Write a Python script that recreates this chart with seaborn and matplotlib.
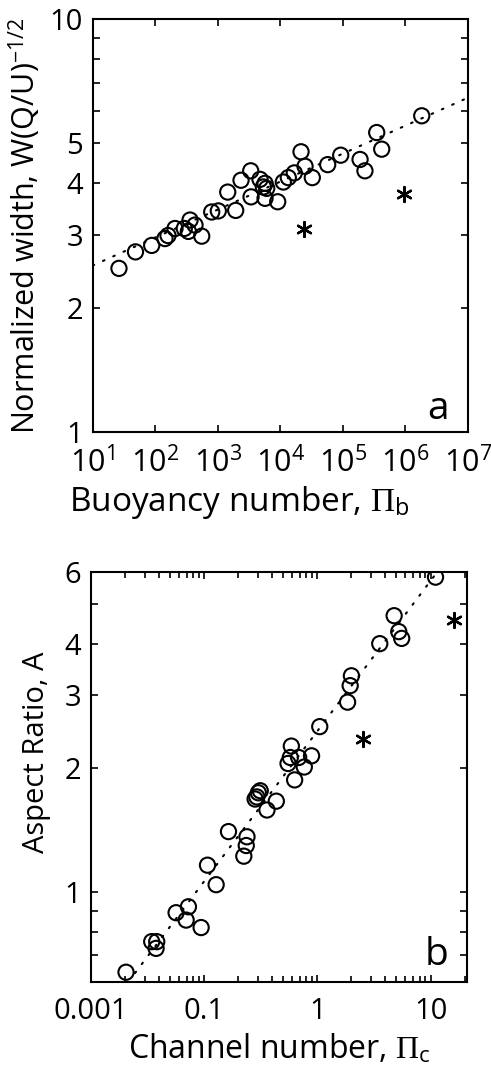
import numpy as np
import pandas as pd
from matplotlib import pyplot as plt
from matplotlib.ticker import FixedLocator, NullLocator, LogLocator, NullFormatter
import seaborn as sns

# Panel a: buoyancy number vs normalized width
buoy_x = [26.3, 48.3, 87.7, 143, 160, 207, 291, 360, 432, 338, 553, 799, 1019,
          1932, 1440, 2350, 3360, 3400, 4730, 5690, 6050, 5340, 5690, 9070,
          11150, 13400, 16700, 21400, 24800, 32400, 57100, 92200, 188000,
          225000, 347000, 417000, 1820000]
buoy_y = [2.49, 2.73, 2.83, 2.94, 2.99, 3.11, 3.11, 3.26, 3.17, 3.06, 2.98,
          3.41, 3.43, 3.44, 3.81, 4.07, 4.29, 3.71, 4.09, 4.00, 3.89, 3.92,
          3.68, 3.61, 4.03, 4.13, 4.24, 4.77, 4.40, 4.13, 4.44, 4.68, 4.57,
          4.29, 5.31, 4.84, 5.83]
buoy_star_x = [24000, 948000]
buoy_star_y = [3.10, 3.78]
buoy_fit_x = [10, 1e7]
buoy_fit_y = [2.53, 6.45]

# Panel b: channel number vs aspect ratio
chan_x = [0.0204, 0.0344, 0.0381, 0.0376, 0.0565, 0.0726, 0.0693, 0.094,
          0.107, 0.1276, 0.164, 0.239, 0.2355, 0.224, 0.301, 0.292, 0.282,
          0.313, 0.434, 0.359, 0.630, 0.589, 0.577, 0.684, 0.551, 0.889,
          0.767, 1.05, 1.85, 1.95, 2.00, 3.56, 4.77, 5.24, 5.56, 11.07]
chan_y = [0.637, 0.756, 0.756, 0.728, 0.889, 0.919, 0.853, 0.818, 1.16, 1.04,
          1.40, 1.36, 1.295, 1.22, 1.74, 1.70, 1.68, 1.76, 1.66, 1.58, 1.87,
          2.26, 2.12, 2.12, 2.05, 2.14, 2.01, 2.52, 2.89, 3.17, 3.35, 4.01,
          4.69, 4.29, 4.13, 5.82]
chan_star_x = [2.55, 16.1]
chan_star_y = [2.35, 4.58]
chan_fit_x = [0.0245, 11.0]
chan_fit_y = [0.634, 5.9]

sns.set_style('ticks')
plt.rcParams['font.family'] = ['Open Sans', 'DejaVu Sans']
plt.rcParams['mathtext.fontset'] = 'custom'
plt.rcParams['mathtext.rm'] = 'Liberation Serif'
plt.rcParams['mathtext.sf'] = 'Open Sans'
plt.rcParams['mathtext.it'] = 'Liberation Serif:italic'
for key in ['text.color', 'axes.labelcolor', 'xtick.color', 'ytick.color',
            'axes.edgecolor']:
    plt.rcParams[key] = 'black'

fs = 21
asterisk = (6, 2, 0)

fig = plt.figure(figsize=(4.91, 10.68), dpi=100)
ax1 = fig.add_axes([0.1888, 0.5955, 0.7644, 0.3867])
ax2 = fig.add_axes([0.1853, 0.0805, 0.7658, 0.3842])

df_a = pd.DataFrame({'x': buoy_x, 'y': buoy_y})
df_b = pd.DataFrame({'x': chan_x, 'y': chan_y})

for ax, df, sx, sy, fx, fy in [(ax1, df_a, buoy_star_x, buoy_star_y, buoy_fit_x, buoy_fit_y),
                               (ax2, df_b, chan_star_x, chan_star_y, chan_fit_x, chan_fit_y)]:
    ax.set_xscale('log')
    ax.set_yscale('log')
    ax.plot(fx, fy, color='black', lw=1.5, linestyle=(0, (0.8, 4.6)),
            dash_capstyle='round', zorder=1)
    sns.scatterplot(data=df, x='x', y='y', ax=ax, marker='o', s=120,
                    facecolor='none', edgecolor='black', linewidth=1.5, zorder=2)
    sns.scatterplot(x=sx, y=sy, ax=ax, marker=asterisk, s=115,
                    color='black', linewidth=1.7, zorder=3)
    for sp in ax.spines.values():
        sp.set_linewidth(1.5)
        sp.set_visible(True)
    ax.tick_params(which='both', direction='in', top=True, right=True,
                   width=1.2, labelsize=fs)
    ax.tick_params(which='major', length=5)
    ax.tick_params(which='minor', length=4)
    ax.tick_params(axis='x', which='both', pad=11)
    ax.tick_params(axis='y', which='both', pad=7)

# panel a axes
ax1.set_xlim(10, 1e7)
ax1.set_ylim(1, 10)
a_xticks = [1e1, 1e2, 1e3, 1e4, 1e5, 1e6, 1e7]
a_xlabels = [r'$\mathsf{10^{%d}}$' % k for k in range(1, 8)]
ax1.xaxis.set_major_locator(FixedLocator(a_xticks))
ax1.set_xticklabels(a_xlabels)
ax1.tick_params(axis='x', labelsize=22)
ax1.xaxis.set_minor_locator(NullLocator())
a_yticks = [1, 2, 3, 4, 5, 6, 7, 8, 9, 10]
a_ylabels = ['1', '2', '3', '4', '5', '', '', '', '', '10']
ax1.yaxis.set_major_locator(FixedLocator(a_yticks))
ax1.set_yticklabels(a_ylabels)
ax1.yaxis.set_minor_locator(NullLocator())
ax1.set_xlabel(r'Buoyancy number, $\Pi_{\mathsf{b}}$', fontsize=24)
ax1.xaxis.set_label_coords(0.39, -0.125)
ax1.set_ylabel(r'Normalized width, W(Q/U)$^{\mathsf{-1/2}}$', fontsize=22)
ax1.yaxis.set_label_coords(-0.133, 0.5)
ax1.text(0.92, 0.056, 'a', transform=ax1.transAxes, fontsize=28,
         ha='center', va='center')

# panel b axes
ax2.set_xlim(0.01, 21)
ax2.set_ylim(0.603, 6)
b_xticks = [0.01, 0.1, 1, 10]
b_xlabels = ['0.001', '0.1', '1', '10']
ax2.xaxis.set_major_locator(FixedLocator(b_xticks))
ax2.set_xticklabels(b_xlabels)
ax2.xaxis.set_minor_locator(LogLocator(base=10, subs=np.arange(2, 10)))
ax2.xaxis.set_minor_formatter(NullFormatter())
b_yticks = [0.7, 0.8, 0.9, 1, 2, 3, 4, 5, 6]
b_ylabels = ['', '', '', '1', '2', '3', '4', '', '6']
ax2.yaxis.set_major_locator(FixedLocator(b_yticks))
ax2.set_yticklabels(b_ylabels)
ax2.yaxis.set_minor_locator(NullLocator())
ax2.set_xlabel(r'Channel number, $\Pi_{\mathsf{c}}$', fontsize=23)
ax2.xaxis.set_label_coords(0.5, -0.125)
ax2.set_ylabel('Aspect Ratio, A', fontsize=21)
ax2.yaxis.set_label_coords(-0.107, 0.56)
ax2.text(0.918, 0.066, 'b', transform=ax2.transAxes, fontsize=28,
         ha='center', va='center')

fig.savefig('out.png', dpi=100)
